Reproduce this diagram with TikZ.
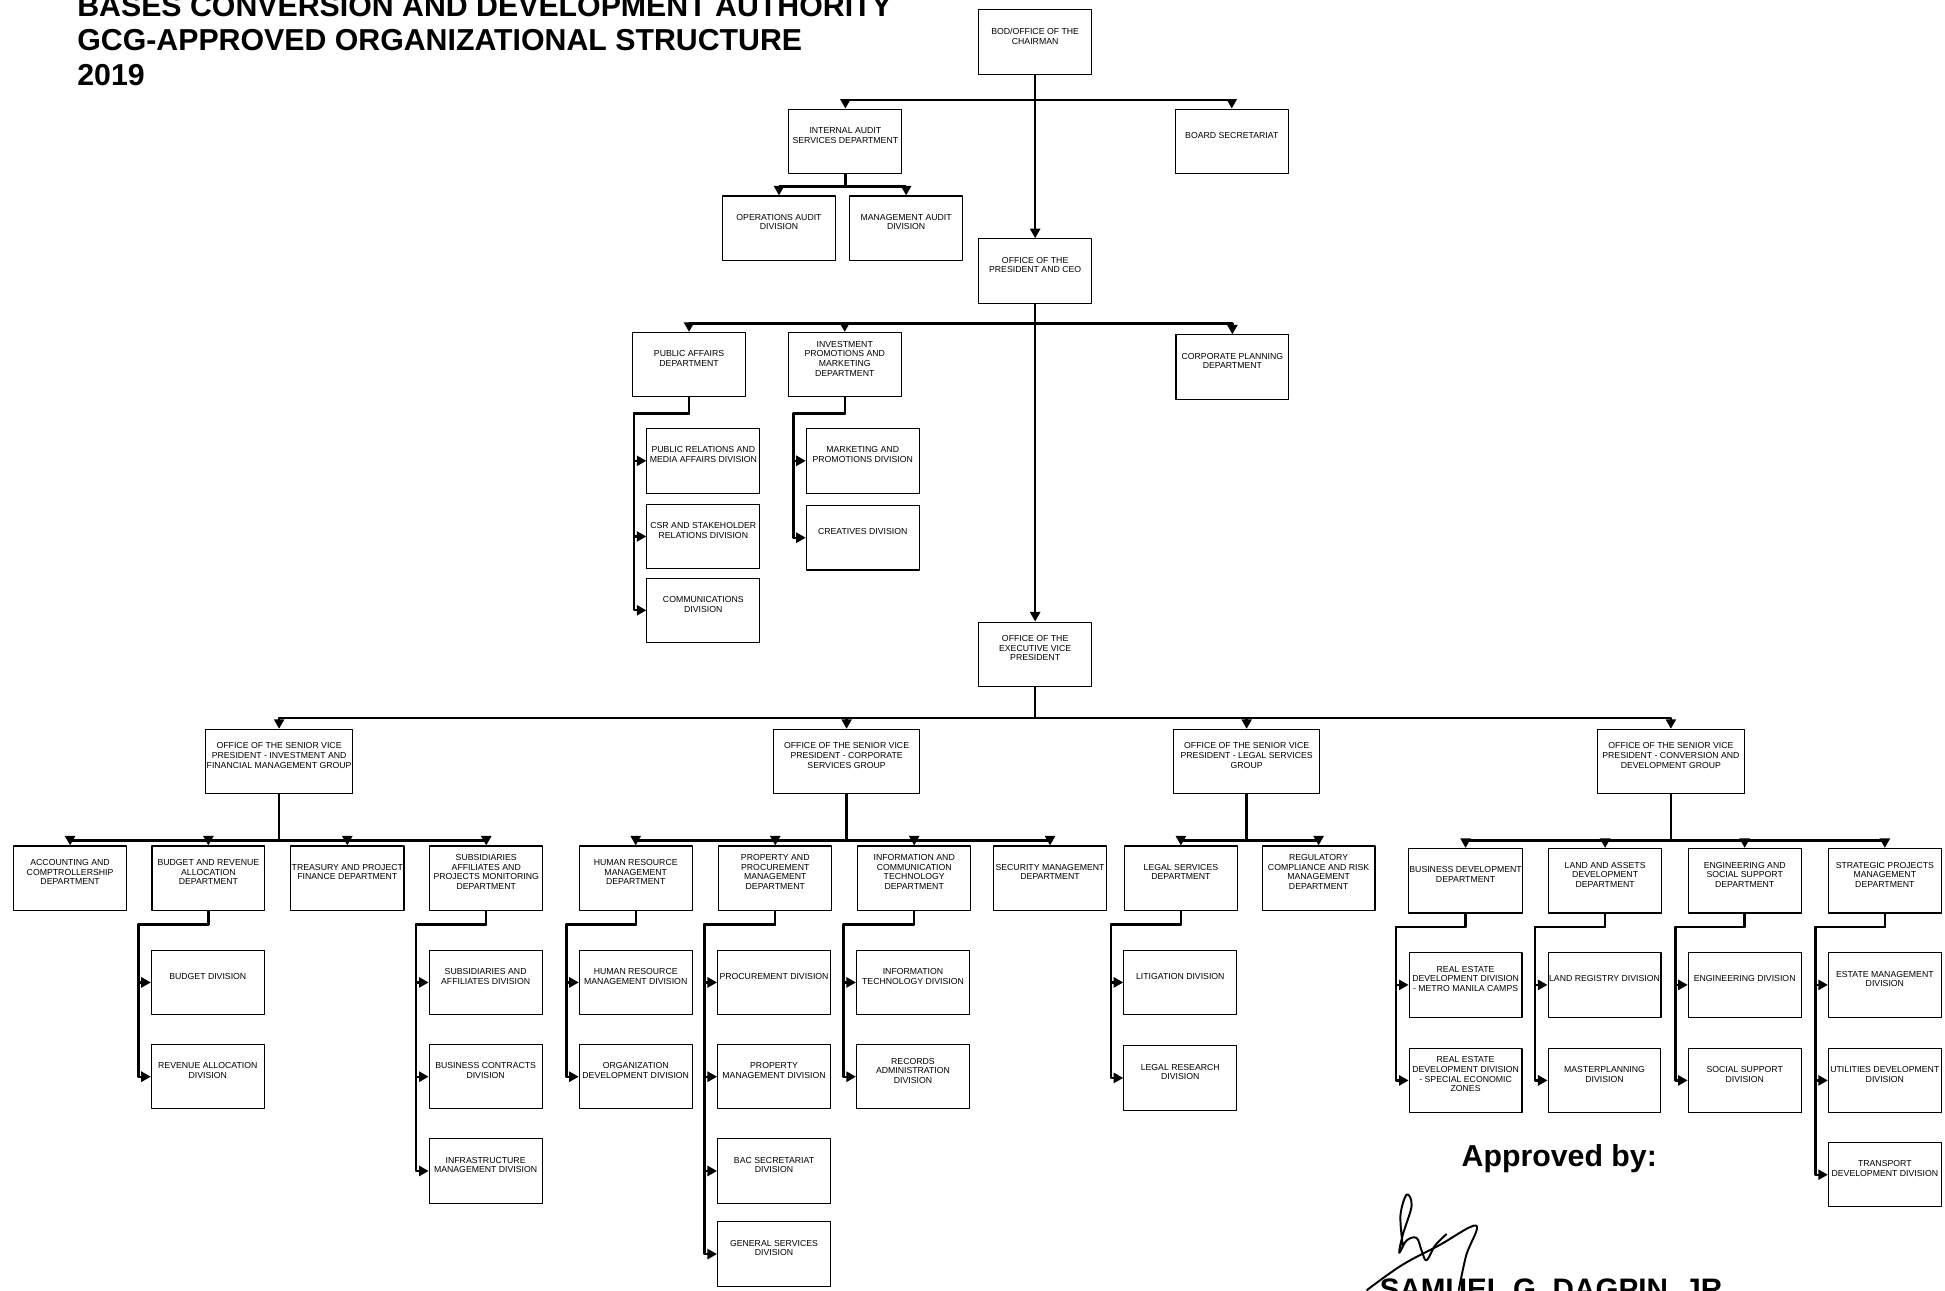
\documentclass[tikz,border=0pt]{standalone}
\usepackage{fontspec}
\setmainfont{Liberation Sans}
\usetikzlibrary{arrows.meta}
\newcommand{\boxfont}{\fontsize{4}{4.4}\selectfont}
\tikzset{
	unit/.style={draw,line width=0.5pt,minimum width=1.82cm,minimum height=1.04cm,inner sep=0.5pt,align=center,font=\boxfont,execute at end node={\rule[-5.6pt]{0pt}{0pt}}},
	office/.style={unit,minimum width=2.36cm},
	heading/.style={anchor=base west,inner sep=0pt,font=\fontsize{13.9}{16}\selectfont\bfseries},
	link/.style={line width=1.1pt,->}
}

\begin{document}
\begin{tikzpicture}[line join=round,>={Triangle[length=4.4pt,width=4.6pt]},x=0.02cm,y=-0.02cm]
		\useasboundingbox (0,0) rectangle (1568,1040);
		\clip (0,0) rectangle (1568,1040);
		\fill[white] (0,0) rectangle (1568,1040);
		% title and approval
		\node[heading] (title1) at (62,13) {BASES CONVERSION AND DEVELOPMENT AUTHORITY};
		\node[heading] (title2) at (62,41) {GCG-APPROVED ORGANIZATIONAL STRUCTURE};
		\node[heading] (title3) at (62,69) {2019};
		\node[heading] (approved) at (1178,940) {Approved by:};
		\node[heading,font=\fontsize{13.6}{16}\selectfont\bfseries] (signatory) at (1112,1048) {SAMUEL G. DAGPIN, JR.};
		\draw[line width=0.9pt,line cap=round] plot[smooth,tension=0.6] coordinates {(1131,1005) (1129,980) (1134,963) (1138,972) (1131,995) (1128,1010) (1134,1000) (1142,998) (1146,1008) (1150,1016) (1157,1004) (1166,995)};
		\draw[line width=0.9pt,line cap=round] plot[smooth,tension=0.6] coordinates {(1102,1040) (1130,1020) (1160,1004) (1190,988) (1182,1012) (1176,1040)};
		% board and president
		\node[unit] (chair) at (834.5,34) {BOD/OFFICE OF THE\\CHAIRMAN};
		\node[unit] (iasd) at (681.5,114) {INTERNAL AUDIT\\SERVICES DEPARTMENT};
		\node[unit] (boardsec) at (993,114) {BOARD SECRETARIAT};
		\node[unit] (opsaudit) at (628,184) {OPERATIONS AUDIT\\DIVISION};
		\node[unit] (mgmtaudit) at (730.5,184) {MANAGEMENT AUDIT\\DIVISION};
		\node[unit] (pres) at (834.5,218.5) {OFFICE OF THE\\PRESIDENT AND CEO};
		\node[unit] (pad) at (555.5,294) {PUBLIC AFFAIRS\\DEPARTMENT};
		\node[unit] (ipmd) at (681,294) {INVESTMENT\\PROMOTIONS AND\\MARKETING\\DEPARTMENT};
		\node[unit] (cpd) at (993.5,296) {CORPORATE PLANNING\\DEPARTMENT};
		\node[unit] (prmad) at (567,371.5) {PUBLIC RELATIONS AND\\MEDIA AFFAIRS DIVISION};
		\node[unit] (csrd) at (567,432.5) {CSR AND STAKEHOLDER\\RELATIONS DIVISION};
		\node[unit] (commd) at (567,492) {COMMUNICATIONS\\DIVISION};
		\node[unit] (mpd) at (695.5,371.5) {MARKETING AND\\PROMOTIONS DIVISION};
		\node[unit] (crd) at (695.5,433.5) {CREATIVES DIVISION};
		\node[unit] (evp) at (834.5,527.5) {OFFICE OF THE\\EXECUTIVE VICE\\PRESIDENT};
		% senior vice presidents
		\node[office] (svpifmg) at (225,614) {OFFICE OF THE SENIOR VICE\\PRESIDENT - INVESTMENT AND\\FINANCIAL MANAGEMENT GROUP};
		\node[office] (svpcsg) at (682.5,614) {OFFICE OF THE SENIOR VICE\\PRESIDENT - CORPORATE\\SERVICES GROUP};
		\node[office] (svplsg) at (1005,614) {OFFICE OF THE SENIOR VICE\\PRESIDENT - LEGAL SERVICES\\GROUP};
		\node[office] (svpcdg) at (1347,614) {OFFICE OF THE SENIOR VICE\\PRESIDENT - CONVERSION AND\\DEVELOPMENT GROUP};
		% departments
		\node[unit] (acd) at (56.5,708) {ACCOUNTING AND\\COMPTROLLERSHIP\\DEPARTMENT};
		\node[unit] (brad) at (168,708) {BUDGET AND REVENUE\\ALLOCATION\\DEPARTMENT};
		\node[unit] (tpfd) at (280,708) {TREASURY AND PROJECT\\FINANCE DEPARTMENT};
		\node[unit] (sapmd) at (392,708) {SUBSIDIARIES\\AFFILIATES AND\\PROJECTS MONITORING\\DEPARTMENT};
		\node[unit] (hrmd) at (512.5,708) {HUMAN RESOURCE\\MANAGEMENT\\DEPARTMENT};
		\node[unit] (ppmd) at (625,708) {PROPERTY AND\\PROCUREMENT\\MANAGEMENT\\DEPARTMENT};
		\node[unit] (ictd) at (737,708) {INFORMATION AND\\COMMUNICATION\\TECHNOLOGY\\DEPARTMENT};
		\node[unit] (smd) at (846.5,708) {SECURITY MANAGEMENT\\DEPARTMENT};
		\node[unit] (lsd) at (952,708) {LEGAL SERVICES\\DEPARTMENT};
		\node[unit] (rcrmd) at (1063,708) {REGULATORY\\COMPLIANCE AND RISK\\MANAGEMENT\\DEPARTMENT};
		\node[unit] (bdd) at (1181.5,710) {BUSINESS DEVELOPMENT\\DEPARTMENT};
		\node[unit] (ladd) at (1294,710) {LAND AND ASSETS\\DEVELOPMENT\\DEPARTMENT};
		\node[unit] (essd) at (1406.5,710) {ENGINEERING AND\\SOCIAL SUPPORT\\DEPARTMENT};
		\node[unit] (spmd) at (1519.5,710) {STRATEGIC PROJECTS\\MANAGEMENT\\DEPARTMENT};
		% divisions
		\node[unit] (bd) at (167.5,792) {BUDGET DIVISION};
		\node[unit] (rad) at (167.5,868) {REVENUE ALLOCATION\\DIVISION};
		\node[unit] (sad) at (391.5,792) {SUBSIDIARIES AND\\AFFILIATES DIVISION};
		\node[unit] (bcd) at (391.5,868) {BUSINESS CONTRACTS\\DIVISION};
		\node[unit] (imd) at (391.5,944) {INFRASTRUCTURE\\MANAGEMENT DIVISION};
		\node[unit] (hrmdiv) at (512.5,792) {HUMAN RESOURCE\\MANAGEMENT DIVISION};
		\node[unit] (odd) at (512.5,868) {ORGANIZATION\\DEVELOPMENT DIVISION};
		\node[unit] (procd) at (624,792) {PROCUREMENT DIVISION};
		\node[unit] (pmd) at (624,868) {PROPERTY\\MANAGEMENT DIVISION};
		\node[unit] (bacd) at (624,944) {BAC SECRETARIAT\\DIVISION};
		\node[unit] (gsd) at (624,1011) {GENERAL SERVICES\\DIVISION};
		\node[unit] (itd) at (736,792) {INFORMATION\\TECHNOLOGY DIVISION};
		\node[unit] (rcd) at (736,868) {RECORDS\\ADMINISTRATION\\DIVISION};
		\node[unit] (litd) at (951.5,792) {LITIGATION DIVISION};
		\node[unit] (lrd) at (951.5,869) {LEGAL RESEARCH\\DIVISION};
		\node[unit] (redmm) at (1181.5,794) {REAL ESTATE\\DEVELOPMENT DIVISION\\- METRO MANILA CAMPS};
		\node[unit] (redsez) at (1181.5,871) {REAL ESTATE\\DEVELOPMENT DIVISION\\- SPECIAL ECONOMIC\\ZONES};
		\node[unit] (lrgd) at (1293.5,794) {LAND REGISTRY DIVISION};
		\node[unit] (mpdiv) at (1293.5,871) {MASTERPLANNING\\DIVISION};
		\node[unit] (engd) at (1406.5,794) {ENGINEERING DIVISION};
		\node[unit] (ssd) at (1406.5,871) {SOCIAL SUPPORT\\DIVISION};
		\node[unit] (emd) at (1519.5,794) {ESTATE MANAGEMENT\\DIVISION};
		\node[unit] (udd) at (1519.5,871) {UTILITIES DEVELOPMENT\\DIVISION};
		\node[unit] (tdd) at (1519.5,947) {TRANSPORT\\DEVELOPMENT DIVISION};
		% connectors, top part
		\draw[link] (chair.south) -- (pres.north);
		\draw[link] (chair.south) -- ++(0,20) -| (iasd.north);
		\draw[link] (chair.south) -- ++(0,20) -| (boardsec.north);
		\draw[link] (iasd.south) -- ++(0,10) -| (opsaudit.north);
		\draw[link] (iasd.south) -- ++(0,10) -| (mgmtaudit.north);
		\draw[link] (pres.south) -- (evp.north);
		\draw[link] (pres.south) -- ++(0,16) -| (pad.north);
		\draw[link] (pres.south) -- ++(0,16) -| (ipmd.north);
		\draw[link] (pres.south) -- ++(0,16) -| (cpd.north);
		\draw[link] (pad.south) -- ++(0,13) -| ([xshift=-0.2cm]prmad.west) -- (prmad.west);
		\draw[link] (pad.south) -- ++(0,13) -| ([xshift=-0.2cm]csrd.west) -- (csrd.west);
		\draw[link] (pad.south) -- ++(0,13) -| ([xshift=-0.2cm]commd.west) -- (commd.west);
		\draw[link] (ipmd.south) -- ++(0,13) -| ([xshift=-0.2cm]mpd.west) -- (mpd.west);
		\draw[link] (ipmd.south) -- ++(0,13) -| ([xshift=-0.2cm]crd.west) -- (crd.west);
		% connectors, executive vice president
		\draw[link] (evp.south) -- ++(0,25) -| (svpifmg.north);
		\draw[link] (evp.south) -- ++(0,25) -| (svpcsg.north);
		\draw[link] (evp.south) -- ++(0,25) -| (svplsg.north);
		\draw[link] (evp.south) -- ++(0,25) -| (svpcdg.north);
		\draw[link] (svpifmg.south) -- ++(0,37) -| (acd.north);
		\draw[link] (svpifmg.south) -- ++(0,37) -| (brad.north);
		\draw[link] (svpifmg.south) -- ++(0,37) -| (tpfd.north);
		\draw[link] (svpifmg.south) -- ++(0,37) -| (sapmd.north);
		\draw[link] (svpcsg.south) -- ++(0,37) -| (hrmd.north);
		\draw[link] (svpcsg.south) -- ++(0,37) -| (ppmd.north);
		\draw[link] (svpcsg.south) -- ++(0,37) -| (ictd.north);
		\draw[link] (svpcsg.south) -- ++(0,37) -| (smd.north);
		\draw[link] (svplsg.south) -- ++(0,37) -| (lsd.north);
		\draw[link] (svplsg.south) -- ++(0,37) -| (rcrmd.north);
		\draw[link] (svpcdg.south) -- ++(0,37) -| (bdd.north);
		\draw[link] (svpcdg.south) -- ++(0,37) -| (ladd.north);
		\draw[link] (svpcdg.south) -- ++(0,37) -| (essd.north);
		\draw[link] (svpcdg.south) -- ++(0,37) -| (spmd.north);
		% connectors, divisions
		\draw[link] (brad.south) -- ++(0,11) -| ([xshift=-0.2cm]bd.west) -- (bd.west);
		\draw[link] (brad.south) -- ++(0,11) -| ([xshift=-0.2cm]rad.west) -- (rad.west);
		\draw[link] (sapmd.south) -- ++(0,11) -| ([xshift=-0.2cm]sad.west) -- (sad.west);
		\draw[link] (sapmd.south) -- ++(0,11) -| ([xshift=-0.2cm]bcd.west) -- (bcd.west);
		\draw[link] (sapmd.south) -- ++(0,11) -| ([xshift=-0.2cm]imd.west) -- (imd.west);
		\draw[link] (hrmd.south) -- ++(0,11) -| ([xshift=-0.2cm]hrmdiv.west) -- (hrmdiv.west);
		\draw[link] (hrmd.south) -- ++(0,11) -| ([xshift=-0.2cm]odd.west) -- (odd.west);
		\draw[link] (ppmd.south) -- ++(0,11) -| ([xshift=-0.2cm]procd.west) -- (procd.west);
		\draw[link] (ppmd.south) -- ++(0,11) -| ([xshift=-0.2cm]pmd.west) -- (pmd.west);
		\draw[link] (ppmd.south) -- ++(0,11) -| ([xshift=-0.2cm]bacd.west) -- (bacd.west);
		\draw[link] (ppmd.south) -- ++(0,11) -| ([xshift=-0.2cm]gsd.west) -- (gsd.west);
		\draw[link] (ictd.south) -- ++(0,11) -| ([xshift=-0.2cm]itd.west) -- (itd.west);
		\draw[link] (ictd.south) -- ++(0,11) -| ([xshift=-0.2cm]rcd.west) -- (rcd.west);
		\draw[link] (lsd.south) -- ++(0,11) -| ([xshift=-0.2cm]litd.west) -- (litd.west);
		\draw[link] (lsd.south) -- ++(0,11) -| ([xshift=-0.2cm]lrd.west) -- (lrd.west);
		\draw[link] (bdd.south) -- ++(0,11) -| ([xshift=-0.2cm]redmm.west) -- (redmm.west);
		\draw[link] (bdd.south) -- ++(0,11) -| ([xshift=-0.2cm]redsez.west) -- (redsez.west);
		\draw[link] (ladd.south) -- ++(0,11) -| ([xshift=-0.2cm]lrgd.west) -- (lrgd.west);
		\draw[link] (ladd.south) -- ++(0,11) -| ([xshift=-0.2cm]mpdiv.west) -- (mpdiv.west);
		\draw[link] (essd.south) -- ++(0,11) -| ([xshift=-0.2cm]engd.west) -- (engd.west);
		\draw[link] (essd.south) -- ++(0,11) -| ([xshift=-0.2cm]ssd.west) -- (ssd.west);
		\draw[link] (spmd.south) -- ++(0,11) -| ([xshift=-0.2cm]emd.west) -- (emd.west);
		\draw[link] (spmd.south) -- ++(0,11) -| ([xshift=-0.2cm]udd.west) -- (udd.west);
		\draw[link] (spmd.south) -- ++(0,11) -| ([xshift=-0.2cm]tdd.west) -- (tdd.west);
\end{tikzpicture}
\end{document}
